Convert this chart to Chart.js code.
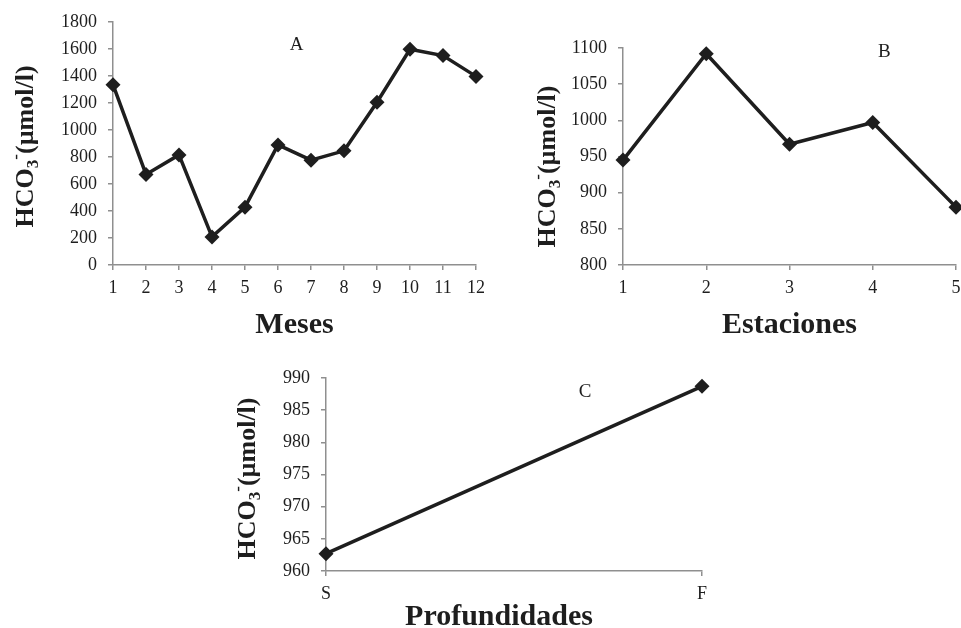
<!DOCTYPE html>
<html>
<head>
<meta charset="utf-8">
<script src="https://cdn.jsdelivr.net/npm/chart.js@4.4.0/dist/chart.umd.min.js"></script>
<style>
  html, body { margin: 0; padding: 0; background: #fff; }
  body { width: 961px; height: 628px; position: relative; overflow: hidden; }
  canvas { position: absolute; }
</style>
</head>
<body>
<canvas id="grafico_a" width="490" height="345" style="left:0;top:0"></canvas>
<canvas id="grafico_b" width="471" height="345" style="left:490px;top:0"></canvas>
<canvas id="grafico_c" width="520" height="283" style="left:220px;top:345px"></canvas>
<script>
// datos
const mesesLabels = ['1', '2', '3', '4', '5', '6', '7', '8', '9', '10', '11', '12']
const hco3Meses = [1335, 670, 815, 208, 428, 889, 776, 845, 1205, 1597, 1550, 1396]

const estacionesLabels = ['1', '2', '3', '4', '5']
const hco3Estaciones = [945, 1092, 967, 997, 880]

const profundidadesLabels = ['S', 'F']
const hco3Profundidades = [962.7, 988.7]

// rangos del eje y: [min, max, paso]
const ejeMeses = [0, 1800, 200]
const ejeEstaciones = [800, 1100, 50]
const ejeProfundidades = [960, 990, 5]

const FONT = '"Liberation Serif", "Times New Roman", serif'
const GRIS = '#8f8f8f'
const NEGRO = '#1e1e1e'

// titulos de ejes y letra del panel (con subindice / superindice)
const titulos = {
  id: 'titulos',
  afterDraw(chart, args, opts) {
    const ctx = chart.ctx
    const area = chart.chartArea
    ctx.save()
    ctx.fillStyle = NEGRO

    // titulo eje y, rotado
    const piezas = [
      { t: 'HCO', size: 26, dy: 0 },
      { t: '3', size: 17, dy: 5 },
      { t: '-', size: 17, dy: -12 },
      { t: '(\u00b5mol/l)', size: 26, dy: 0 }
    ]
    let total = 0
    piezas.forEach(p => {
      ctx.font = 'bold ' + p.size + 'px ' + FONT
      p.w = ctx.measureText(p.t).width
      total += p.w
    })
    const cy = (area.top + area.bottom) / 2 + opts.yTitleDy
    ctx.translate(area.left + opts.yTitleX, cy)
    ctx.rotate(-Math.PI / 2)
    ctx.textBaseline = 'alphabetic'
    ctx.textAlign = 'left'
    let x = -total / 2
    piezas.forEach(p => {
      ctx.font = 'bold ' + p.size + 'px ' + FONT
      ctx.fillText(p.t, x, p.dy)
      x += p.w
    })
    ctx.setTransform(1, 0, 0, 1, 0, 0)

    // titulo eje x
    ctx.font = 'bold 30px ' + FONT
    ctx.textAlign = 'center'
    ctx.fillText(opts.xTitle, (area.left + area.right) / 2 + opts.xTitleDx, area.bottom + opts.xTitleY)

    // letra del panel
    const xs = chart.scales.x
    const ys = chart.scales.y
    const px = xs.left + (xs.right - xs.left) * opts.letra[1]
    ctx.font = '19px ' + FONT
    ctx.textBaseline = 'middle'
    ctx.fillText(opts.letra[0], px, ys.getPixelForValue(opts.letra[2]))
    ctx.restore()
  }
}

function grafico(id, labels, values, eje, cfg) {
  new Chart(document.getElementById(id), {
    type: 'line',
    data: {
      labels: labels,
      datasets: [{
        data: values,
        borderColor: NEGRO,
        borderWidth: 3.5,
        backgroundColor: NEGRO,
        pointStyle: 'rectRot',
        pointRadius: 7.5,
        pointBorderWidth: 0,
        tension: 0,
        clip: false
      }]
    },
    options: {
      responsive: false,
      animation: false,
      devicePixelRatio: 1,
      layout: { autoPadding: false, padding: { left: 0, top: cfg.top, right: cfg.right, bottom: 0 } },
      plugins: {
        legend: { display: false },
        tooltip: { enabled: false },
        titulos: cfg.titulos
      },
      scales: {
        x: {
          type: 'category',
          offset: false,
          afterFit: s => {
            s.height = cfg.xHeight
            s.paddingLeft = 0
            s.paddingRight = 0
          },
          grid: { drawOnChartArea: false, drawTicks: true, tickLength: 5, color: GRIS, lineWidth: 1.5 },
          border: { display: true, color: GRIS, width: 1.5 },
          ticks: { color: NEGRO, padding: 7, font: { family: FONT, size: 18 }, maxRotation: 0, autoSkip: false }
        },
        y: {
          min: eje[0],
          max: eje[1],
          afterFit: s => { s.width = cfg.yWidth },
          grid: { drawOnChartArea: false, drawTicks: true, tickLength: 5, color: GRIS, lineWidth: 1.5 },
          border: { display: true, color: GRIS, width: 1.5 },
          ticks: { stepSize: eje[2], color: NEGRO, padding: 11, font: { family: FONT, size: 18 }, callback: v => String(v) }
        }
      }
    },
    plugins: [titulos]
  })
}

grafico('grafico_a', mesesLabels, hco3Meses, ejeMeses, {
  top: 20, right: 14, xHeight: 80, yWidth: 113,
  titulos: { xTitle: 'Meses', xTitleY: 68, xTitleDx: 0, yTitleX: -80, yTitleDy: 3, letra: ['A', 0.506, 1631] }
})

grafico('grafico_b', estacionesLabels, hco3Estaciones, ejeEstaciones, {
  top: 48, right: 5, xHeight: 80, yWidth: 133,
  titulos: { xTitle: 'Estaciones', xTitleY: 68, xTitleDx: 0, yTitleX: -68, yTitleDy: 10, letra: ['B', 0.785, 1094] }
})

grafico('grafico_c', profundidadesLabels, hco3Profundidades, ejeProfundidades, {
  top: 33, right: 38, xHeight: 57, yWidth: 106,
  titulos: { xTitle: 'Profundidades', xTitleY: 54, xTitleDx: -15, yTitleX: -71, yTitleDy: 4, letra: ['C', 0.689, 987.8] }
})
</script>
</body>
</html>
